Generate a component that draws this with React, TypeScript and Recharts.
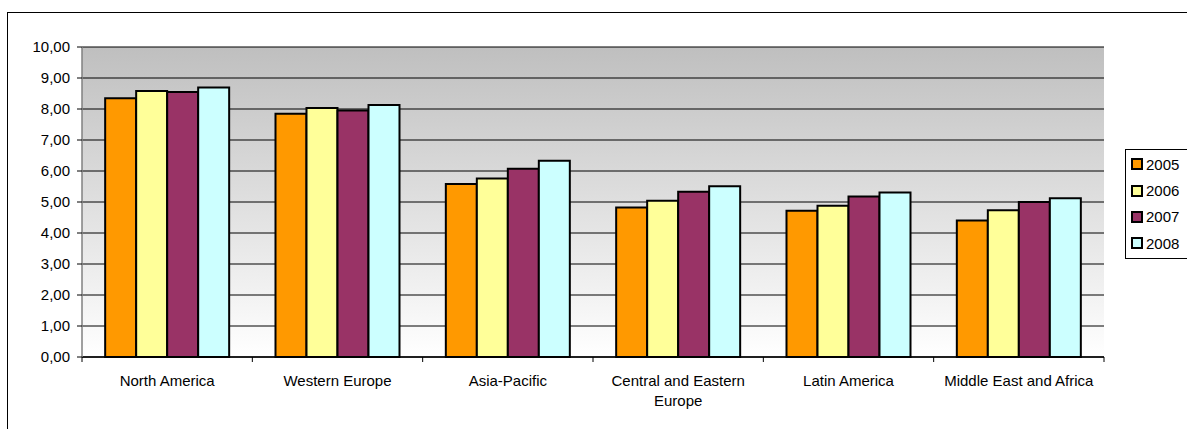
import { Bar, BarChart, CartesianGrid, Legend, Text, XAxis, YAxis } from "recharts"

const categories = [
  "North America",
  "Western Europe",
  "Asia-Pacific",
  "Central and Eastern Europe",
  "Latin America",
  "Middle East and Africa",
]
const years = ["2005", "2006", "2007", "2008"]
const v2005 = [8.35, 7.85, 5.58, 4.82, 4.72, 4.4]
const v2006 = [8.58, 8.03, 5.76, 5.04, 4.88, 4.73]
const v2007 = [8.55, 7.95, 6.07, 5.33, 5.18, 5.0]
const v2008 = [8.69, 8.13, 6.33, 5.51, 5.31, 5.12]
const yTicks = [0, 1, 2, 3, 4, 5, 6, 7, 8, 9, 10]

const colors = ["#ff9900", "#ffff99", "#993366", "#ccffff"]
const font = "'Liberation Sans', Arial, sans-serif"
const fs = 15

const data = categories.map((name, i) => ({
  name,
  "2005": v2005[i],
  "2006": v2006[i],
  "2007": v2007[i],
  "2008": v2008[i],
}))

const W = 1187
const H = 429
const margin = { top: 47, right: 83, bottom: 0, left: 0 }
const yAxisWidth = 82
const xAxisHeight = 72
const plotW = W - margin.right - yAxisWidth
const halfBand = plotW / categories.length / 2

function CategoryTick(props: any) {
  const { x, y, payload, index } = props
  return (
    <g>
      <line x1={x - halfBand} y1={y} x2={x - halfBand} y2={y + 5} stroke="#000" />
      {index === categories.length - 1 && (
        <line x1={x + halfBand} y1={y} x2={x + halfBand} y2={y + 5} stroke="#000" />
      )}
      <Text
        x={x}
        y={y + 18}
        width={165}
        textAnchor="middle"
        verticalAnchor="start"
        lineHeight={20}
        fill="#000"
        style={{ fontFamily: font, fontSize: fs }}
      >
        {payload.value}
      </Text>
    </g>
  )
}

function LegendBox() {
  return (
    <div
      style={{
        border: "1px solid #000",
        background: "#fff",
        width: 75,
        paddingTop: 1,
        paddingBottom: 1,
        boxSizing: "border-box",
        fontFamily: font,
        fontSize: fs,
      }}
    >
      {years.map((y, i) => (
        <div key={y} style={{ height: 26.4, display: "flex", alignItems: "center", paddingLeft: 5 }}>
          <span
            style={{
              width: 12,
              height: 12,
              boxSizing: "border-box",
              border: "2px solid #000",
              background: colors[i],
              marginRight: 3,
              display: "inline-block",
            }}
          />
          <span>{y}</span>
        </div>
      ))}
    </div>
  )
}

export default function App() {
  return (
    <div
      style={{
        position: "absolute",
        left: 0,
        top: 0,
        width: W,
        height: H,
        overflow: "hidden",
        background: "#fff",
      }}
    >
      <div
        style={{
          position: "absolute",
          left: 7,
          top: 12,
          width: 1300,
          height: 600,
          border: "1px solid #000",
          boxShadow: "0 1px 0 #999",
        }}
      />
      <div style={{ position: "absolute", left: 0, top: 0 }}>
        <BarChart
          width={W}
          height={H}
          data={data}
          margin={margin}
          barCategoryGap="13.6%"
          barGap={0}
        >
          <defs>
            <linearGradient id="plotBg" x1="0" y1="0" x2="0" y2="1">
              <stop offset="0%" stopColor="#bfbfbf" />
              <stop offset="100%" stopColor="#ffffff" />
            </linearGradient>
          </defs>
          <CartesianGrid vertical={false} stroke="#000" fill="url(#plotBg)" fillOpacity={1} />
          <XAxis
            dataKey="name"
            interval={0}
            height={xAxisHeight}
            tickLine={false}
            tickSize={0}
            tickMargin={0}
            axisLine={{ stroke: "#000", strokeWidth: 1.5 }}
            tick={<CategoryTick />}
          />
          <XAxis
            xAxisId="top"
            dataKey="name"
            orientation="top"
            height={0}
            tick={false}
            tickLine={false}
            axisLine={{ stroke: "#808080", strokeWidth: 2 }}
          />
          <YAxis
            width={yAxisWidth}
            domain={[0, 10]}
            ticks={yTicks}
            interval={0}
            tickSize={5}
            tickMargin={7}
            tickLine={{ stroke: "#000" }}
            axisLine={{ stroke: "#808080", strokeWidth: 1.5 }}
            tick={{ fill: "#000", fontSize: fs, fontFamily: font }}
            tickFormatter={(v: number) => v.toFixed(2).replace(".", ",")}
          />
          <YAxis
            yAxisId="right"
            orientation="right"
            width={0}
            domain={[0, 10]}
            tick={false}
            tickLine={false}
            axisLine={{ stroke: "#808080", strokeWidth: 2 }}
          />
          <Legend
            layout="vertical"
            align="center"
            verticalAlign="middle"
            content={<LegendBox />}
            wrapperStyle={{ position: "absolute", left: 1125, top: 149, width: "auto", height: "auto" }}
          />
          {years.map((y, i) => (
            <Bar
              key={y}
              dataKey={y}
              fill={colors[i]}
              stroke="#000"
              strokeWidth={2}
              isAnimationActive={false}
            />
          ))}
        </BarChart>
      </div>
    </div>
  )
}
